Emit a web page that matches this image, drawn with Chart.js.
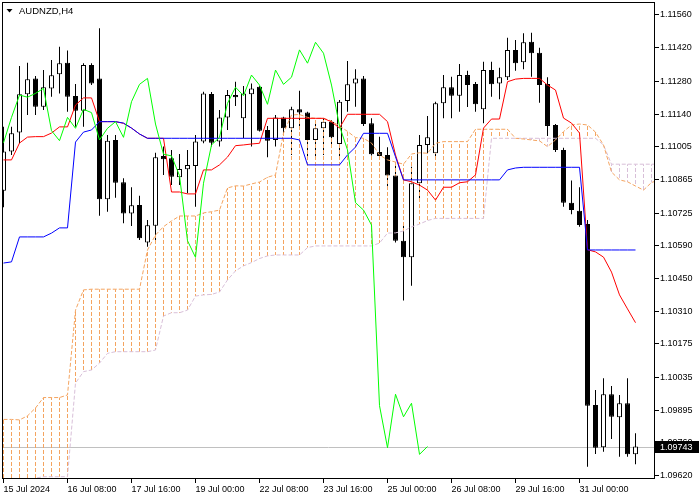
<!DOCTYPE html>
<html>
<head>
<meta charset="utf-8">
<title>AUDNZD,H4</title>
<script src="https://cdn.jsdelivr.net/npm/chart.js@4.4.1/dist/chart.umd.min.js"></script>
<style>
  html, body { margin: 0; padding: 0; background: #fff; }
  canvas { display: block; }
</style>
</head>
<body>
<canvas id="chart" width="700" height="500"></canvas>
<script>
const symbolTitle = 'AUDNZD,H4';

// H4 bars from 15 Jul 2024 00:00, index = bar number
const opens = [
  1.10819, 1.10984, 1.11064, 1.11225, 1.11292, 1.11173, 1.11249, 1.11309, 1.11358, 1.11218,
  1.11156, 1.11348, 1.11292, 1.10783, 1.11033, 1.10855, 1.10724, 1.10759, 1.10602, 1.10672,
  1.10966, 1.10956, 1.10876, 1.10910, 1.10923, 1.11026, 1.11226, 1.11026, 1.11128, 1.11222,
  1.11124, 1.11225, 1.11257, 1.11075, 1.11033, 1.11128, 1.11082, 1.11162, 1.11149, 1.11033,
  1.11082, 1.11110, 1.11016, 1.11197, 1.11271, 1.11292, 1.11103, 1.10982, 1.10970, 1.10883,
  1.10609, 1.10539, 1.10851, 1.11012, 1.10977, 1.11187, 1.11255, 1.11219, 1.11306, 1.11268,
  1.11162, 1.11327, 1.11271, 1.11297, 1.11412, 1.11360, 1.11446, 1.11400, 1.11268, 1.11096,
  1.10991, 1.10769, 1.10735, 1.10679, 1.09918, 1.09740, 1.09963, 1.09866, 1.09925, 1.09710
];
const highs = [
  1.11089, 1.11089, 1.11344, 1.11358, 1.11302, 1.11327, 1.11369, 1.11425, 1.11409, 1.11268,
  1.11356, 1.11356, 1.11503, 1.11054, 1.11054, 1.10872, 1.10834, 1.10798, 1.10696, 1.10979,
  1.11005, 1.10991, 1.10974, 1.10991, 1.11054, 1.11236, 1.11235, 1.11159, 1.11243, 1.11278,
  1.11260, 1.11271, 1.11260, 1.11092, 1.11138, 1.11131, 1.11173, 1.11240, 1.11152, 1.11110,
  1.11124, 1.11117, 1.11201, 1.11365, 1.11330, 1.11302, 1.11124, 1.11047, 1.11002, 1.10931,
  1.10682, 1.10920, 1.11054, 1.11134, 1.11194, 1.11306, 1.11299, 1.11353, 1.11324, 1.11277,
  1.11362, 1.11362, 1.11337, 1.11463, 1.11454, 1.11482, 1.11484, 1.11421, 1.11297, 1.11100,
  1.11000, 1.10862, 1.10834, 1.10696, 1.09981, 1.10030, 1.09998, 1.09960, 1.10030, 1.09799
];
const lows = [
  1.10750, 1.10970, 1.11019, 1.11138, 1.11138, 1.11159, 1.11215, 1.11229, 1.11152, 1.11089,
  1.11089, 1.11264, 1.10714, 1.10731, 1.10790, 1.10682, 1.10671, 1.10612, 1.10584, 1.10612,
  1.10886, 1.10843, 1.10843, 1.10809, 1.10752, 1.11019, 1.11005, 1.11005, 1.11075, 1.11176,
  1.11040, 1.11005, 1.11069, 1.10960, 1.11005, 1.11061, 1.10970, 1.11075, 1.10949, 1.10949,
  1.10970, 1.11012, 1.10949, 1.11152, 1.11173, 1.11092, 1.10968, 1.10960, 1.10834, 1.10601,
  1.10357, 1.10420, 1.10780, 1.10977, 1.10949, 1.11124, 1.11124, 1.11152, 1.11172, 1.11152,
  1.11103, 1.11215, 1.11204, 1.11285, 1.11324, 1.11330, 1.11299, 1.11190, 1.11050, 1.10982,
  1.10752, 1.10720, 1.10668, 1.09658, 1.09712, 1.09721, 1.09775, 1.09700, 1.09700, 1.09668
];
const closes = [
  1.10984, 1.11061, 1.11225, 1.11288, 1.11173, 1.11255, 1.11305, 1.11356, 1.11215, 1.11156,
  1.11348, 1.11271, 1.10783, 1.11030, 1.10853, 1.10724, 1.10758, 1.10619, 1.10674, 1.10960,
  1.10952, 1.10878, 1.10911, 1.10928, 1.11026, 1.11229, 1.11021, 1.11128, 1.11222, 1.11213,
  1.11229, 1.11250, 1.11072, 1.11030, 1.11128, 1.11082, 1.11162, 1.11148, 1.11033, 1.11082,
  1.11110, 1.11044, 1.11194, 1.11267, 1.11292, 1.11100, 1.10973, 1.10966, 1.10883, 1.10609,
  1.10539, 1.10851, 1.11012, 1.11044, 1.11187, 1.11255, 1.11219, 1.11306, 1.11264, 1.11183,
  1.11327, 1.11267, 1.11297, 1.11412, 1.11356, 1.11444, 1.11398, 1.11264, 1.11092, 1.10991,
  1.10769, 1.10738, 1.10675, 1.09915, 1.09738, 1.09963, 1.09868, 1.09925, 1.09710, 1.09743
];

// Ichimoku lines
const tenkan = [
  1.10949, 1.10949, 1.11020, 1.11045, 1.11047, 1.11047, 1.11062, 1.11088, 1.11088, 1.11180,
  1.11210, 1.11210, 1.11110, 1.11110, 1.11110, 1.11103, 1.11083, 1.11058, 1.11040, 1.11040,
  1.11040, 1.10814, 1.10814, 1.10806, 1.10806, 1.10907, 1.10907, 1.10928, 1.10961, 1.11009,
  1.11012, 1.11016, 1.11019, 1.11124, 1.11124, 1.11124, 1.11124, 1.11124, 1.11124, 1.11124,
  1.11124, 1.11109, 1.11083, 1.11141, 1.11141, 1.11141, 1.11141, 1.11141, 1.11110, 1.10970,
  1.10865, 1.10857, 1.10843, 1.10822, 1.10780, 1.10834, 1.10834, 1.10853, 1.10857, 1.10886,
  1.11083, 1.11121, 1.11121, 1.11278, 1.11289, 1.11292, 1.11292, 1.11292, 1.11264, 1.11243,
  1.11125, 1.11104, 1.11062, 1.10571, 1.10562, 1.10540, 1.10477, 1.10381, 1.10322, 1.10264
];
const kijun = [
  1.10515, 1.10520, 1.10625, 1.10625, 1.10625, 1.10625, 1.10641, 1.10663, 1.10663, 1.11024,
  1.11066, 1.11075, 1.11110, 1.11110, 1.11110, 1.11104, 1.11083, 1.11058, 1.11040, 1.11040,
  1.11040, 1.11040, 1.11040, 1.11040, 1.11040, 1.11040, 1.11040, 1.11040, 1.11040, 1.11040,
  1.11040, 1.11040, 1.11040, 1.11040, 1.11040, 1.11040, 1.11040, 1.11033, 1.10928, 1.10928,
  1.10928, 1.10928, 1.10928, 1.10970, 1.11003, 1.11061, 1.11061, 1.11061, 1.11061, 1.10962,
  1.10865, 1.10865, 1.10865, 1.10865, 1.10865, 1.10865, 1.10865, 1.10865, 1.10865, 1.10865,
  1.10865, 1.10865, 1.10865, 1.10907, 1.10915, 1.10918, 1.10918, 1.10918, 1.10918, 1.10918,
  1.10918, 1.10918, 1.10918, 1.10570, 1.10570, 1.10570, 1.10570, 1.10570, 1.10570, 1.10570
];
// lagging line, starts at bar 0
const chikou = [
  1.11021, 1.11128, 1.11222, 1.11213, 1.11229, 1.11250, 1.11072, 1.11030, 1.11128, 1.11082,
  1.11162, 1.11148, 1.11033, 1.11082, 1.11110, 1.11044, 1.11194, 1.11267, 1.11292, 1.11100,
  1.10973, 1.10966, 1.10883, 1.10609, 1.10539, 1.10851, 1.11012, 1.11044, 1.11187, 1.11255,
  1.11219, 1.11306, 1.11264, 1.11183, 1.11327, 1.11267, 1.11297, 1.11412, 1.11356, 1.11444,
  1.11398, 1.11264, 1.11092, 1.10991, 1.10769, 1.10738, 1.10675, 1.09915, 1.09738, 1.09963,
  1.09868, 1.09925, 1.09710, 1.09743
];
// cloud, runs past the last bar
const senkouA = [
  1.09857, 1.09857, 1.09855, 1.09872, 1.09905, 1.09949, 1.09949, 1.09949, 1.09960, 1.10317,
  1.10402, 1.10405, 1.10405, 1.10405, 1.10405, 1.10405, 1.10405, 1.10405, 1.10570, 1.10633,
  1.10668, 1.10692, 1.10713, 1.10713, 1.10713, 1.10726, 1.10731, 1.10738, 1.10831, 1.10840,
  1.10839, 1.10848, 1.10856, 1.10876, 1.10886, 1.11062, 1.11138, 1.11140, 1.11128, 1.11124,
  1.11124, 1.11113, 1.11092, 1.11069, 1.11043, 1.11040, 1.11020, 1.10970, 1.10949, 1.10940,
  1.10931, 1.10974, 1.10979, 1.10977, 1.11019, 1.11026, 1.11026, 1.11026, 1.11026, 1.11078,
  1.11078, 1.11078, 1.11078, 1.11078, 1.11040, 1.11037, 1.11033, 1.11029, 1.11005, 1.11033,
  1.11068, 1.11096, 1.11100, 1.11096, 1.11066, 1.11012, 1.10898, 1.10865, 1.10857, 1.10839,
  1.10822, 1.10854, 1.10865
];
const senkouB = [
  1.09581, 1.09581, 1.09581, 1.09581, 1.09610, 1.09616, 1.09616, 1.09616, 1.09616, 1.10010,
  1.10058, 1.10065, 1.10094, 1.10135, 1.10142, 1.10142, 1.10142, 1.10142, 1.10142, 1.10149,
  1.10292, 1.10306, 1.10306, 1.10317, 1.10376, 1.10381, 1.10383, 1.10393, 1.10444, 1.10482,
  1.10503, 1.10517, 1.10534, 1.10545, 1.10549, 1.10549, 1.10549, 1.10549, 1.10580, 1.10587,
  1.10587, 1.10587, 1.10587, 1.10587, 1.10587, 1.10587, 1.10587, 1.10599, 1.10641, 1.10642,
  1.10650, 1.10667, 1.10679, 1.10694, 1.10703, 1.10703, 1.10703, 1.10703, 1.10703, 1.10703,
  1.10703, 1.11040, 1.11040, 1.11040, 1.11040, 1.11040, 1.11040, 1.11040, 1.11040, 1.11040,
  1.11040, 1.11040, 1.11040, 1.11040, 1.11040, 1.11012, 1.10931, 1.10931, 1.10931, 1.10931,
  1.10931, 1.10931, 1.10931
];

const timeTicks = [0, 8, 16, 24, 32, 40, 48, 56, 64, 72];
const timeLabels = ['15 Jul 2024', '16 Jul 08:00', '17 Jul 16:00', '19 Jul 00:00', '22 Jul 08:00',
                    '23 Jul 16:00', '25 Jul 00:00', '26 Jul 08:00', '29 Jul 16:00', '31 Jul 00:00'];
const priceTicks = [1.11560, 1.11420, 1.11280, 1.11140, 1.11005, 1.10865, 1.10725, 1.10590,
                    1.10450, 1.10310, 1.10175, 1.10035, 1.09895, 1.09760, 1.09620];
const priceLabels = ['1.11560', '1.11420', '1.11280', '1.11140', '1.11005', '1.10865', '1.10725', '1.10590',
                     '1.10450', '1.10310', '1.10175', '1.10035', '1.09895', '1.09760', '1.09620'];

const FONT = '"Liberation Sans", Arial, sans-serif';
const canvas = document.getElementById('chart');
const ctx = canvas.getContext('2d');

// dashed fill for the 1px cloud bars
function dashPattern(color) {
  const c = document.createElement('canvas');
  c.width = 1; c.height = 6;
  const g = c.getContext('2d');
  g.fillStyle = color;
  g.fillRect(0, 0, 1, 4);
  return ctx.createPattern(c, 'repeat');
}
const upKumo = dashPattern('#F4A460');
const downKumo = dashPattern('#D8BFD8');

const pts = arr => arr.map((v, i) => ({ x: i, y: v }));
const isUp = i => closes[i] >= opens[i];

const mt4Plugin = {
  id: 'mt4',
  beforeDatasetsDraw(chart) {
    const { ctx, chartArea: a, scales: { y } } = chart;
    const py = Math.round(y.getPixelForValue(closes[closes.length - 1])) + 0.5;
    ctx.save();
    ctx.strokeStyle = '#C0C0C0';
    ctx.lineWidth = 1;
    ctx.beginPath();
    ctx.moveTo(a.left, py);
    ctx.lineTo(a.right, py);
    ctx.stroke();
    ctx.restore();
  },
  afterDraw(chart) {
    const { ctx, chartArea: a, scales: { y } } = chart;
    ctx.save();
    ctx.strokeStyle = '#000';
    ctx.lineWidth = 1;
    ctx.strokeRect(a.left - 0.5, a.top - 0.5, a.right - a.left + 1, a.bottom - a.top + 1);

    // bid label
    const last = closes[closes.length - 1];
    const py = Math.round(y.getPixelForValue(last));
    ctx.fillStyle = '#000';
    ctx.fillRect(a.right + 1, py - 6, 44, 12);
    ctx.fillStyle = '#fff';
    ctx.font = '9px ' + FONT;
    ctx.textBaseline = 'middle';
    ctx.textAlign = 'left';
    ctx.fillText(last.toFixed(5), a.right + 6, py + 0.5);

    // title
    ctx.fillStyle = '#000';
    ctx.beginPath();
    ctx.moveTo(a.left + 3.5, a.top + 6);
    ctx.lineTo(a.left + 9.5, a.top + 6);
    ctx.lineTo(a.left + 6.5, a.top + 9.5);
    ctx.closePath();
    ctx.fill();
    ctx.font = '9.5px ' + FONT;
    ctx.fillText(symbolTitle, a.left + 16, a.top + 8);
    ctx.restore();
  }
};

new Chart(ctx, {
  type: 'bar',
  data: {
    datasets: [
      {
        label: 'wicks',
        data: highs.map((h, i) => ({ x: i, y: [lows[i], h] })),
        backgroundColor: '#000',
        barThickness: 1,
        grouped: false,
        inflateAmount: 0,
        order: 6
      },
      {
        label: 'kumo',
        data: senkouA.map((a, i) => ({ x: i, y: [a, senkouB[i]] })),
        backgroundColor: c => (senkouA[c.dataIndex] >= senkouB[c.dataIndex] ? upKumo : downKumo),
        barThickness: 1,
        grouped: false,
        inflateAmount: 0,
        order: 5
      },
      {
        label: 'bodies',
        data: opens.map((o, i) => ({ x: i, y: [o, closes[i]] })),
        backgroundColor: c => (isUp(c.dataIndex) ? '#fff' : '#000'),
        borderColor: '#000',
        borderWidth: 1,
        borderSkipped: false,
        barThickness: 5,
        grouped: false,
        inflateAmount: 0,
        order: 4
      },
      {
        type: 'line', label: 'Senkou Span A', data: pts(senkouA),
        borderColor: '#F4A460', borderWidth: 1, borderDash: [4, 2],
        pointRadius: 0, tension: 0, order: 3
      },
      {
        type: 'line', label: 'Senkou Span B', data: pts(senkouB),
        borderColor: '#D8BFD8', borderWidth: 1, borderDash: [4, 2],
        pointRadius: 0, tension: 0, order: 3
      },
      {
        type: 'line', label: 'Tenkan-sen', data: pts(tenkan),
        borderColor: '#FF0000', borderWidth: 1, pointRadius: 0, tension: 0, order: 2
      },
      {
        type: 'line', label: 'Kijun-sen', data: pts(kijun),
        borderColor: '#0000FF', borderWidth: 1, pointRadius: 0, tension: 0, order: 1
      },
      {
        type: 'line', label: 'Chikou Span', data: pts(chikou),
        borderColor: '#00FF00', borderWidth: 1, pointRadius: 0, tension: 0, order: 0
      }
    ]
  },
  options: {
    responsive: false,
    animation: false,
    devicePixelRatio: 1,
    events: [],
    layout: { padding: { left: 3, top: 3, right: 0, bottom: 0 } },
    plugins: { legend: { display: false }, tooltip: { enabled: false } },
    scales: {
      x: {
        type: 'linear',
        min: -0.0625,
        max: 81.3125,
        offset: false,
        afterBuildTicks: s => { s.ticks = timeTicks.map(v => ({ value: v })); },
        afterFit: s => { s.height = 22; },
        grid: { offset: false, drawOnChartArea: false, drawTicks: true, tickLength: 5, color: '#000' },
        border: { display: false },
        ticks: {
          callback: (v, i) => timeLabels[i],
          align: 'start', autoSkip: false, maxRotation: 0, minRotation: 0,
          padding: 1, color: '#000', font: { family: FONT, size: 9 }
        }
      },
      y: {
        type: 'linear',
        position: 'right',
        min: 1.096105,
        max: 1.116093,
        beginAtZero: false,
        afterBuildTicks: s => { s.ticks = priceTicks.map(v => ({ value: v })); },
        afterFit: s => { s.width = 46; s.paddingTop = 0; s.paddingBottom = 0; },
        grid: { drawOnChartArea: false, drawTicks: true, tickLength: 5, color: '#000' },
        border: { display: false },
        ticks: {
          callback: (v, i) => priceLabels[i],
          padding: 1, color: '#000', font: { family: FONT, size: 9 }
        }
      }
    }
  },
  plugins: [mt4Plugin]
});
</script>
</body>
</html>
